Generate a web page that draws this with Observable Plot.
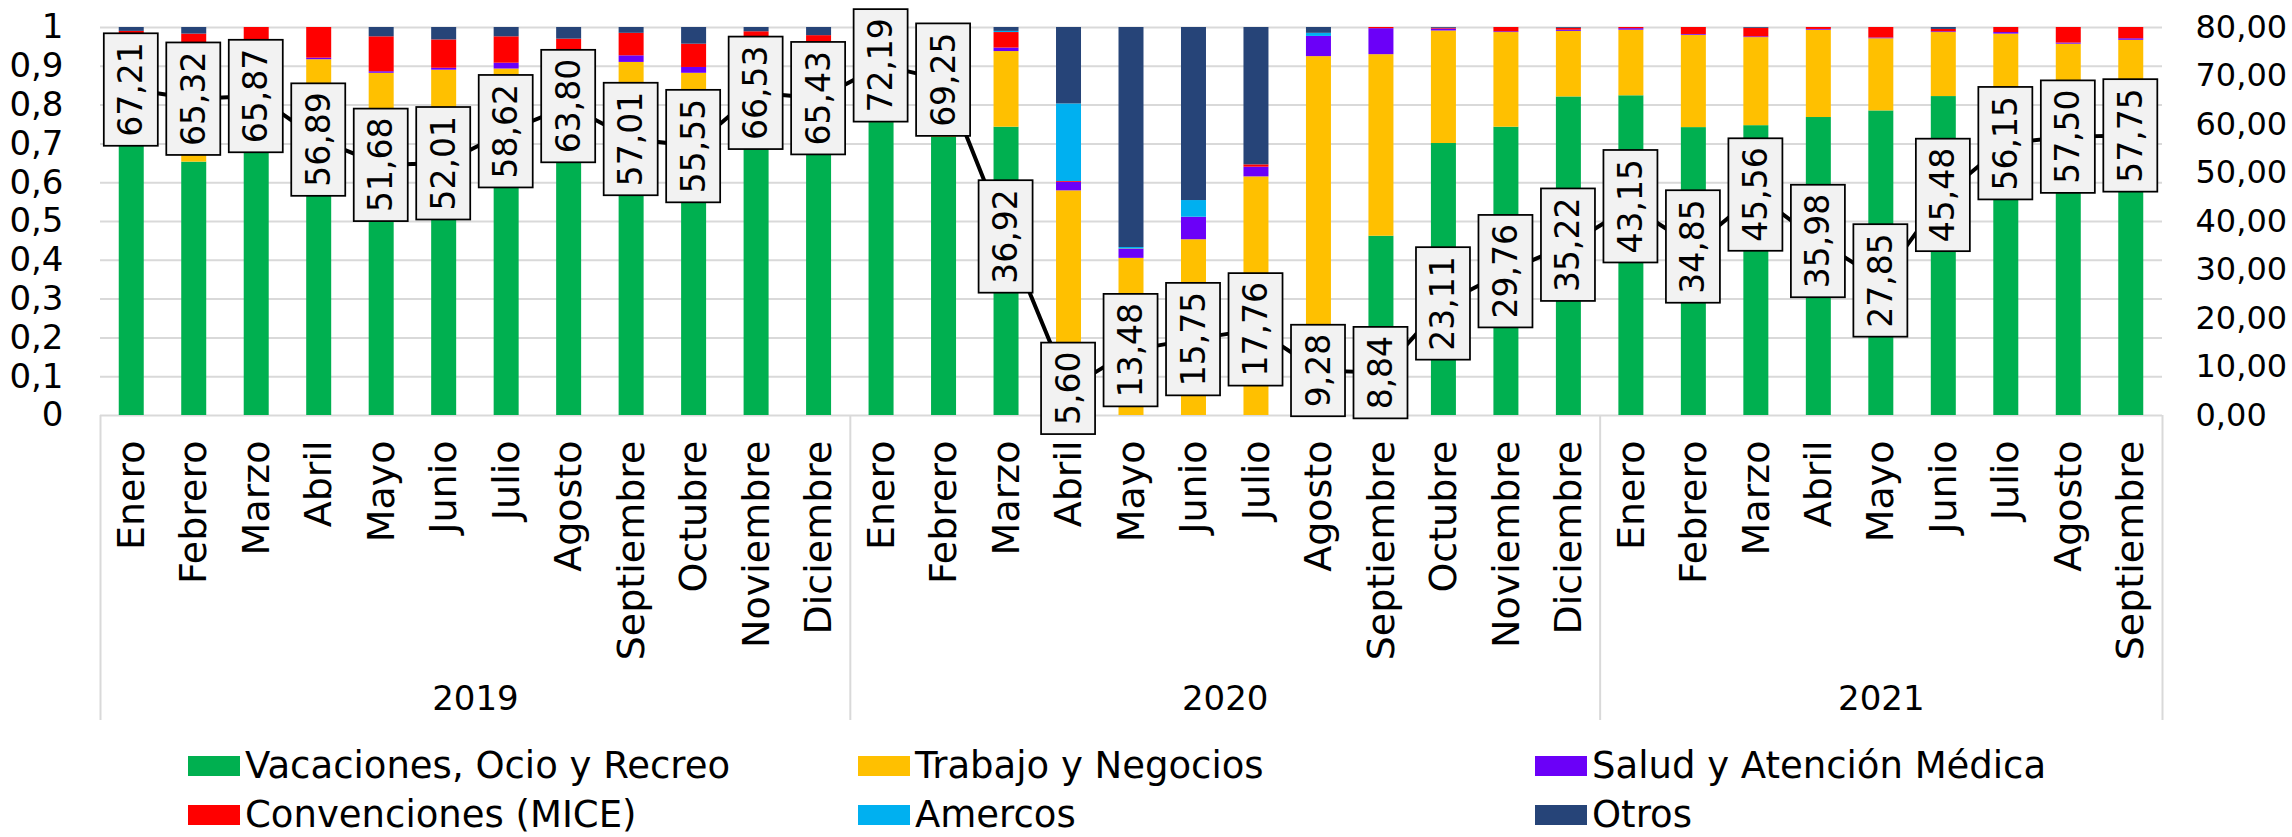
<!DOCTYPE html>
<html><head><meta charset="utf-8">
<script src="https://cdn.jsdelivr.net/npm/d3@7"></script>
<script src="https://cdn.jsdelivr.net/npm/@observablehq/plot@0.6"></script>
<style>
body{margin:0;background:#fff;}
#wrap{position:relative;width:2292px;height:837px;font-family:"DejaVu Sans",sans-serif;color:#000;overflow:hidden;}
.leg{position:absolute;display:flex;align-items:center;font-size:37px;line-height:36px;height:36px;white-space:nowrap;}
.leg .sw{display:inline-block;width:52px;height:20px;margin-right:5px;flex:none;}
</style></head><body><div id="wrap"></div>
<script>
// ---- data ----
const years = ["2019", "2020", "2021"];
const monthNames = ["Enero","Febrero","Marzo","Abril","Mayo","Junio","Julio","Agosto","Septiembre","Octubre","Noviembre","Diciembre"];
const monthsPerYear = [12, 12, 9];
const seriesNames = ["Vacaciones, Ocio y Recreo","Trabajo y Negocios","Salud y Atención Médica","Convenciones (MICE)","Amercos","Otros"];
const seriesColors = ["#00B050","#FFC000","#6B00F8","#FF0000","#00B0F0","#264478"];

const vacaciones = [0.80,0.653,0.80,0.72,0.68,0.68,0.80,0.82,0.72,0.72,0.84,0.82,
  0.755,0.717,0.743,0.01,0,0,0,0,0.462,0.701,0.743,0.821,
  0.824,0.742,0.747,0.768,0.785,0.822,0.80,0.80,0.80];
const trabajo = [0.167,0.30,0.16,0.197,0.202,0.21,0.093,0.116,0.19,0.162,0.13,0.135,
  0.20,0.23,0.195,0.569,0.405,0.453,0.615,0.925,0.468,0.29,0.244,0.169,
  0.169,0.238,0.227,0.225,0.186,0.165,0.183,0.157,0.167];
const salud = [0.003,0.004,0.004,0.004,0.004,0.005,0.015,0.002,0.017,0.015,0.002,0.002,
  0.005,0.005,0.009,0.022,0.023,0.058,0.025,0.052,0.067,0.005,0.002,0.003,
  0.004,0.002,0.002,0.002,0.002,0.002,0.004,0.003,0.004];
const mice = [0.02,0.026,0.036,0.079,0.09,0.073,0.068,0.032,0.058,0.06,0.017,0.022,
  0.02,0.028,0.04,0.002,0.001,0,0.006,0,0.003,0.002,0.011,0.005,
  0.003,0.018,0.022,0.005,0.027,0.006,0.013,0.04,0.029];
const amercos = [0,0,0,0,0,0,0,0,0,0,0,0,
  0,0,0.003,0.2,0.004,0.043,0,0.008,0,0,0,0,
  0,0,0,0,0,0,0,0,0];
const otros = [0.01,0.017,0,0,0.024,0.032,0.024,0.03,0.015,0.043,0.011,0.021,
  0.02,0.02,0.01,0.197,0.567,0.446,0.354,0.015,0,0.002,0,0.002,
  0,0,0.002,0,0,0.005,0,0,0];
const ocupacion = [67.21,65.32,65.87,56.89,51.68,52.01,58.62,63.80,57.01,55.55,66.53,65.43,
  72.19,69.25,36.92,5.60,13.48,15.75,17.76,9.28,8.84,23.11,29.76,35.22,
  43.15,34.85,45.56,35.98,27.85,45.48,56.15,57.50,57.75];
const leftTicks = [0,0.1,0.2,0.3,0.4,0.5,0.6,0.7,0.8,0.9,1];
const rightTicks = [0,10,20,30,40,50,60,70,80];
const rightMax = 80;

// ---- derived tables ----
const seriesValues = [vacaciones, trabajo, salud, mice, amercos, otros];
const cats = [];
years.forEach((y, yi) => {
  for (let m = 0; m < monthsPerYear[yi]; m++) cats.push({i: cats.length, year: y, month: monthNames[m]});
});
const long = cats.flatMap(c => seriesValues.map((vals, s) => ({i: c.i, serie: seriesNames[s], value: vals[c.i]})));
const seps = [0];
monthsPerYear.forEach(n => seps.push(seps[seps.length - 1] + n));
const yearLabels = years.map((y, yi) => ({year: y, mid: (seps[yi] + seps[yi + 1]) / 2}));
const fmt = v => v.toFixed(2).replace(".", ",");

const plot = Plot.plot({
  width: 2292, height: 740,
  marginLeft: 100, marginRight: 130, marginTop: 27, marginBottom: 325,
  style: {fontFamily: '"DejaVu Sans", sans-serif', fontSize: "34px", color: "#000", background: "#fff", overflow: "visible"},
  x: {domain: [0, cats.length]},
  y: {domain: [0, 1]},
  color: {domain: seriesNames, range: seriesColors},
  marks: [
    Plot.ruleY(leftTicks, {stroke: "#d9d9d9", strokeWidth: 2}),
    Plot.ruleX(seps, {y1: () => 0, y2: () => 0, insetBottom: -305, stroke: "#d9d9d9", strokeWidth: 2}),
    Plot.rectY(long, {x1: d => d.i + 0.3, x2: d => d.i + 0.7, y: "value", fill: "serie", order: seriesNames}),
    Plot.line(cats, {x: d => d.i + 0.5, y: d => ocupacion[d.i] / rightMax, stroke: "#000", strokeWidth: 4}),
    Plot.text(cats, {x: d => d.i + 0.5, y: d => ocupacion[d.i] / rightMax, text: d => fmt(ocupacion[d.i]), rotate: -90, fontSize: 33, fill: "#000"}),
    Plot.axisY({anchor: "left", ticks: leftTicks, tickFormat: d => String(d).replace(".", ","), tickSize: 0, tickPadding: 37, fontSize: 34, label: null}),
    Plot.axisY({anchor: "right", ticks: rightTicks.map(v => v / rightMax), tickFormat: d => fmt(d * rightMax), tickSize: 0, tickPadding: 33, fontSize: 32, label: null}),
    Plot.axisX({anchor: "bottom", ticks: cats.map(d => d.i + 0.5), tickFormat: v => cats[Math.floor(v)].month, tickRotate: -90, textAnchor: "end", tickSize: 0, tickPadding: 25, fontSize: 38, label: null}),
    Plot.text(yearLabels, {x: "mid", y: () => 0, dy: 284, text: "year", fontSize: 34, fill: "#000"})
  ]
});
const wrap = document.getElementById("wrap");
wrap.appendChild(plot);

// boxes behind value labels
const NS = "http://www.w3.org/2000/svg";
const tg = [...plot.querySelectorAll('g[aria-label="text"]')].find(g => g.querySelectorAll("text").length === cats.length);
if (tg) {
  tg.querySelectorAll("text").forEach(t => {
    const b = t.getBBox();
    const L = b.width + 18, T = 54;
    const r = document.createElementNS(NS, "rect");
    r.setAttribute("x", b.x + b.width / 2 - L / 2);
    r.setAttribute("y", b.y + b.height / 2 - T / 2);
    r.setAttribute("width", L);
    r.setAttribute("height", T);
    r.setAttribute("fill", "#f2f2f2");
    r.setAttribute("stroke", "#000");
    r.setAttribute("stroke-width", 1.75);
    const tr = t.getAttribute("transform");
    if (tr) r.setAttribute("transform", tr);
    t.parentNode.insertBefore(r, t);
  });
}

// legend
const legPos = [[188, 766], [858, 766], [1535, 766], [188, 815], [858, 815], [1535, 815]];
seriesNames.forEach((name, k) => {
  const d = document.createElement("div");
  d.className = "leg";
  d.style.left = legPos[k][0] + "px";
  d.style.top = (legPos[k][1] - 18) + "px";
  const sw = document.createElement("span");
  sw.className = "sw";
  sw.style.background = seriesColors[k];
  d.appendChild(sw);
  d.appendChild(document.createTextNode(name));
  wrap.appendChild(d);
});
</script></body></html>
